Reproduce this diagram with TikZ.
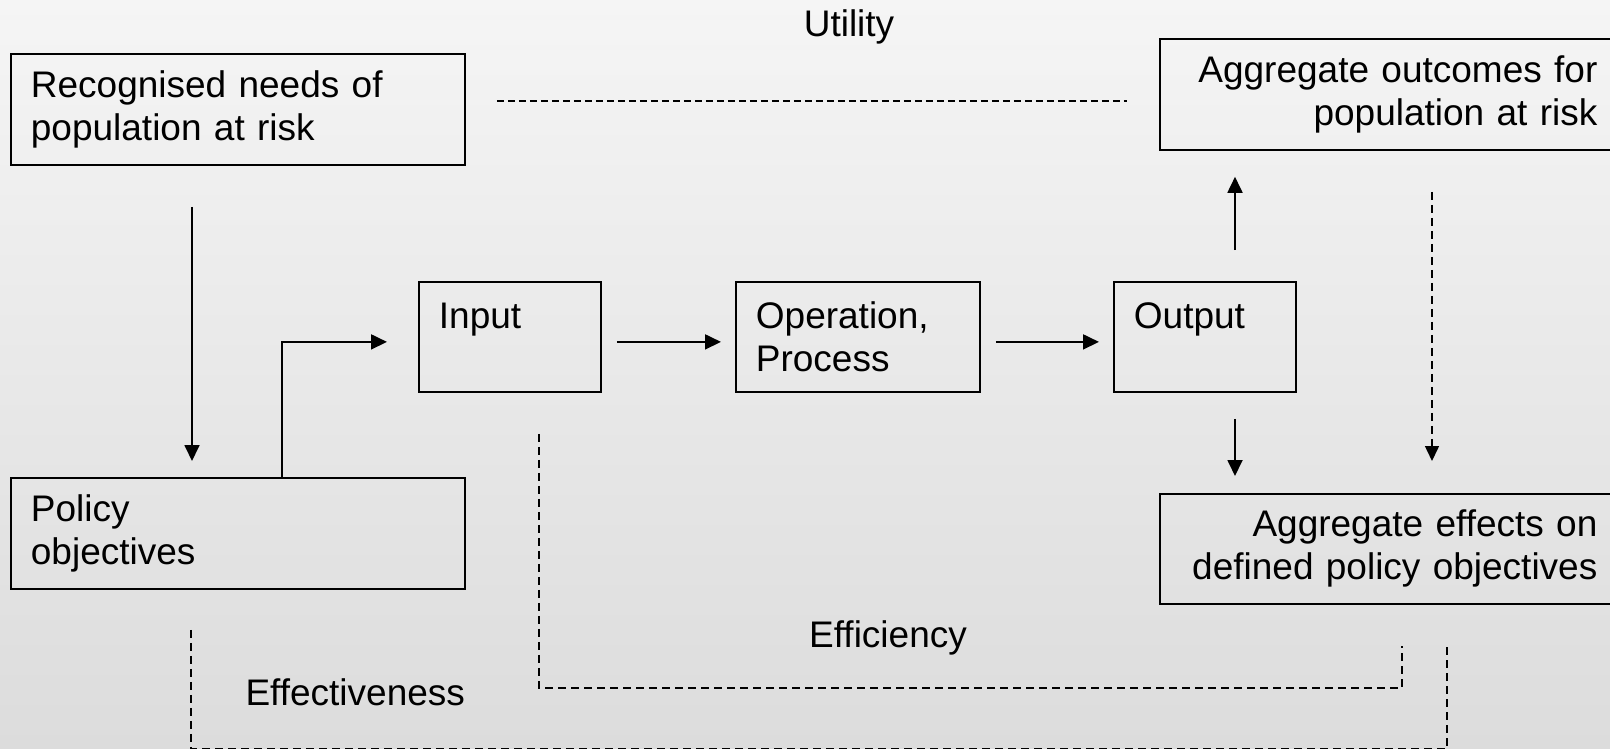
\documentclass[tikz,border=0pt]{standalone}
\usepackage{fontspec}
\setmainfont{Liberation Sans}
\usetikzlibrary{arrows.meta}

\definecolor{bgtop}{HTML}{F5F5F5}
\definecolor{bgbottom}{HTML}{DCDCDC}

\begin{document}
\begin{tikzpicture}[x=1pt, y=-1pt, font=\fontsize{37}{43}\selectfont,
   box_style/.style={draw=black, line width=1.8pt, anchor=north west, inner ysep=0pt, inner xsep=20pt, align=left},
   right_box/.style={box_style, inner xsep=31.5pt, align=right},
   flow_style/.style={draw=black, line width=1.8pt, -{Triangle[length=16pt,width=15pt]}},
   dash_style/.style={draw=black, line width=1.5pt, dash pattern=on 8pt off 5pt}]

    \useasboundingbox (0,0) rectangle (1610,749);
    \shade[top color=bgtop, bottom color=bgbottom] (0,0) rectangle (1610,749);
    \clip (0,0) rectangle (1610,749);

    \node[box_style, text width=414pt, minimum width=454pt, minimum height=111pt] (needs) at (10,53) {Recognised needs of\\population at risk};
    \node[box_style, text width=414pt, minimum width=454pt, minimum height=111pt] (policy) at (10,477) {Policy\\objectives};
    \node[box_style, text width=142pt, minimum width=182pt, minimum height=110pt] (input) at (418,281) {Input\\\mbox{}};
    \node[box_style, text width=204pt, minimum width=244pt, minimum height=110pt] (operation) at (735,281) {Operation,\\Process};
    \node[box_style, text width=142pt, minimum width=182pt, minimum height=110pt] (output) at (1113,281) {Output\\\mbox{}};
    \node[right_box, text width=406pt, minimum width=469pt, minimum height=111pt] (outcomes) at (1159,38) {Aggregate outcomes for\\population at risk};
    \node[right_box, text width=406pt, minimum width=469pt, minimum height=110pt] (effects) at (1159,493) {Aggregate effects on\\defined policy objectives};

    \node[anchor=base] (utility) at (849,37) {Utility};
    \node[anchor=base] (efficiency) at (888,647) {Efficiency};
    \node[anchor=base west] (effectiveness) at (242,705) {Effectiveness};

    \coordinate (upfoot) at ([xshift=122pt]output.north west);
    \coordinate (downfoot) at ([xshift=122pt]output.south west);
    \coordinate (riskfoot) at ([xshift=273pt]outcomes.south west);
    \coordinate (needsfoot) at ([xshift=182pt]needs.south west);

    \draw[flow_style, shorten <=41pt, shorten >=16pt] (needsfoot) -- (needsfoot |- policy.north);
    \draw[flow_style, shorten >=31pt] ([xshift=272pt]policy.north west) |- ([yshift=-5pt]input.west);
    \draw[flow_style, shorten <=15pt, shorten >=14pt] ([yshift=-5pt]input.east) -- ([yshift=-5pt]operation.west);
    \draw[flow_style, shorten <=15pt, shorten >=14pt] ([yshift=-5pt]operation.east) -- ([yshift=-5pt]output.west);
    \draw[flow_style, shorten <=31pt, shorten >=26pt] (upfoot) -- (upfoot |- outcomes.south);
    \draw[flow_style, shorten <=26pt, shorten >=17pt] (downfoot) -- (downfoot |- effects.north);
    \draw[dash_style, -{Triangle[length=15pt,width=14pt]}, shorten <=41pt, shorten >=32pt] (riskfoot) -- (riskfoot |- effects.north);

    \draw[dash_style, dash pattern=on 7pt off 4pt] ([xshift=31pt,yshift=8.5pt]needs.east) -- ([xshift=-32pt,yshift=-6.5pt]outcomes.west);
    \draw[dash_style] ([xshift=121pt,yshift=-41pt]input.south west) -- ++(0,254) -| ([xshift=243pt,yshift=-41pt]effects.south west);
    \draw[dash_style] ([xshift=181pt,yshift=-40pt]policy.south west) -- ++(0,119) -| ([xshift=288pt,yshift=-41pt]effects.south west);
\end{tikzpicture}
\end{document}
